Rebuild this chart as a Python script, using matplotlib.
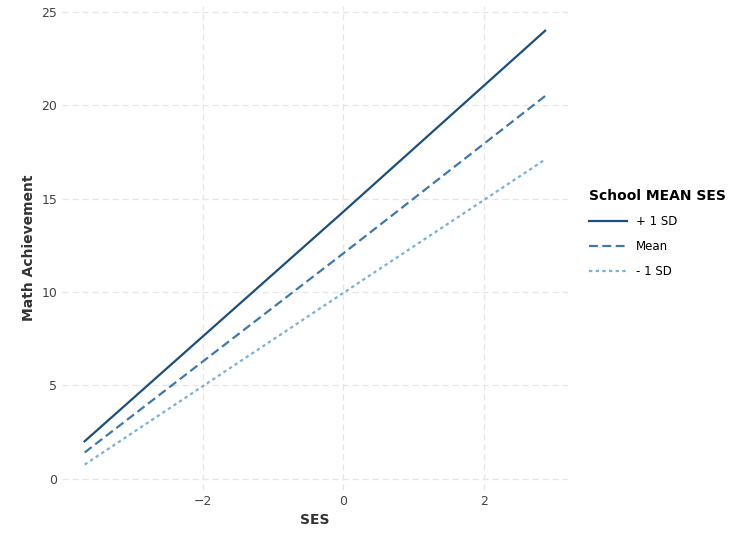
import matplotlib
matplotlib.use("Agg")
import matplotlib.pyplot as plt

ses = [-3.68, 0.0, 2.87]
plus_sd = [2.0, 14.3, 24.0]
mean_v = [1.4, 12.07, 20.5]
minus_sd = [0.75, 9.95, 17.1]
labels = ["+ 1 SD", "Mean", "- 1 SD"]

fig = plt.figure(figsize=(7.4, 5.4), dpi=100)
ax = fig.add_axes([0.084, 0.093, 0.684, 0.895])
ax.plot(ses, plus_sd, color="#1b4f7e", lw=1.6, ls="-", label=labels[0])
ax.plot(ses, mean_v, color="#3f78ad", lw=1.6, ls=(0, (4, 2)), label=labels[1])
ax.plot(ses, minus_sd, color="#79b0dc", lw=1.6, ls=(0, (1.5, 1.5)), label=labels[2])
ax.set_xlim(-4.0, 3.2)
ax.set_ylim(-0.6, 25.3)
ax.set_xticks([-2, 0, 2])
ax.set_yticks([0, 5, 10, 15, 20, 25])
ax.grid(True, color="#e6e6e6", ls=(0, (5, 3)), lw=0.9)
for s in ax.spines.values():
    s.set_visible(False)
ax.tick_params(length=0, labelsize=9, colors="#444444")
ax.set_xlabel("SES", fontsize=10, fontweight="bold", color="#333333")
ax.set_ylabel("Math Achievement", fontsize=10, fontweight="bold", color="#333333")
leg = ax.legend(title="School MEAN SES", loc="center left", bbox_to_anchor=(1.02, 0.53),
                frameon=False, fontsize=8.5, handlelength=3.2, labelspacing=1.0,
                title_fontproperties={"weight": "bold", "size": 10})
leg._legend_box.align = "left"
fig.savefig("out.png")
